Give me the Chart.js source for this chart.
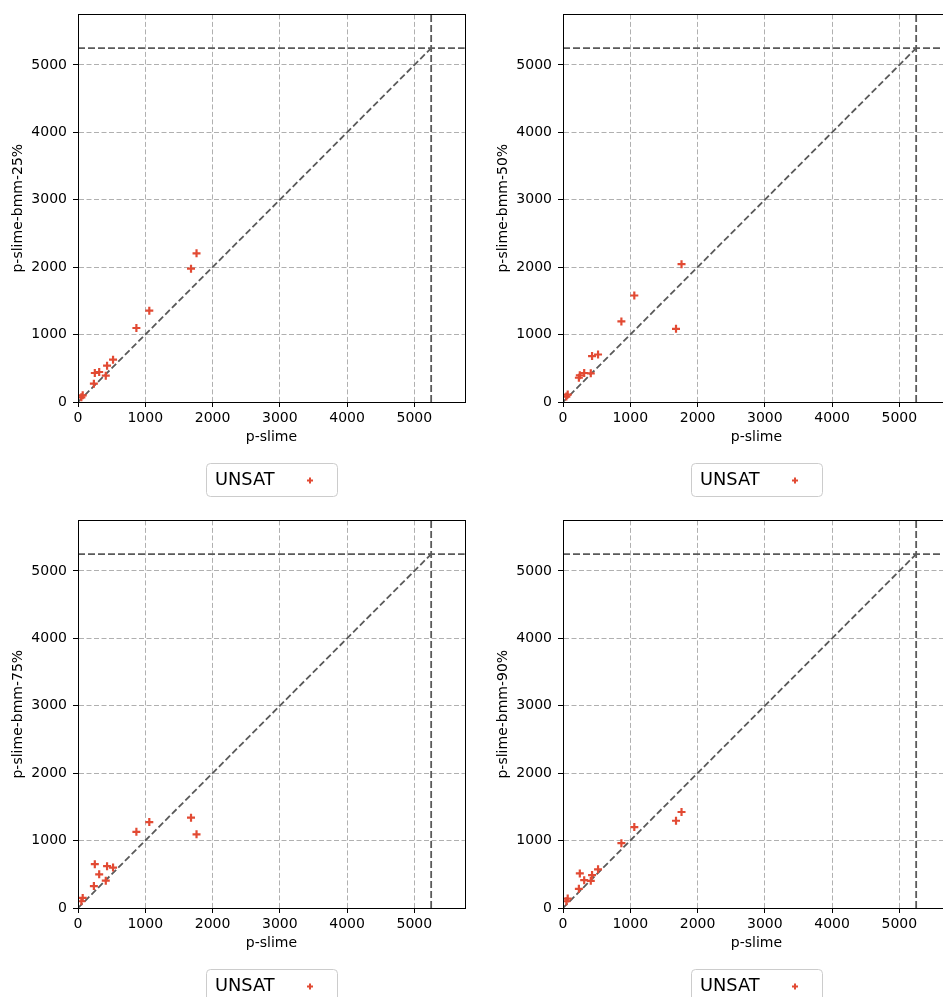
<!DOCTYPE html>
<html>
<head>
<meta charset="utf-8">
<script src="https://cdn.jsdelivr.net/npm/chart.js@4/dist/chart.umd.min.js"></script>
<style>
  html, body { margin: 0; padding: 0; background: #fff; }
  #fig { position: relative; width: 943px; height: 997px; overflow: hidden; }
  #fig canvas { position: absolute; }
</style>
</head>
<body>
<div id="fig">
  <canvas id="c25" width="471" height="506" style="left:0;top:0"></canvas>
  <canvas id="c50" width="471" height="506" style="left:485px;top:0"></canvas>
  <canvas id="c75" width="471" height="506" style="left:0;top:506px"></canvas>
  <canvas id="c90" width="471" height="506" style="left:485px;top:506px"></canvas>
</div>
<script>
// solve times, one entry per instance
const pSlime = [50, 70, 236, 250, 315, 413, 432, 521, 868, 1060, 1680, 1762];
const bmm25 = [70, 99, 272, 430, 445, 390, 539, 628, 1098, 1355, 1978, 2206];
const bmm50 = [80, 110, 360, 395, 430, 425, 681, 705, 1195, 1580, 1086, 2044];
const bmm75 = [100, 150, 325, 650, 500, 405, 620, 600, 1130, 1275, 1340, 1093];
const bmm90 = [100, 140, 284, 513, 413, 403, 488, 573, 961, 1200, 1294, 1424];

const seriesLabel = 'UNSAT';
const xLabel = 'p-slime';
const timeout = 5250;
const axisMax = 5750;
const tickValues = [0, 1000, 2000, 3000, 4000, 5000];

const POINT_COLOR = '#e24a33';
const LINE_COLOR = '#5a5a5a';

Chart.defaults.font.family = '"DejaVu Sans", sans-serif';
Chart.defaults.font.size = 14;
Chart.defaults.color = '#000';

const frame = {
  id: 'frame',
  afterDraw(chart) {
    const { ctx, chartArea: a } = chart;
    ctx.save();
    ctx.strokeStyle = '#000';
    ctx.lineWidth = 1;
    ctx.strokeRect(Math.round(a.left) + 0.5, Math.round(a.top) + 0.5,
      Math.round(a.right - a.left), Math.round(a.bottom - a.top));
    ctx.restore();
  }
};

const legendBox = {
  id: 'legendBox',
  afterDraw(chart) {
    const { ctx, chartArea } = chart;
    const cx = (chartArea.left + chartArea.right) / 2;
    const w = 131, h = 33;
    const x = Math.round(cx - w / 2), y = Math.round(chartArea.bottom + 61);
    ctx.save();
    ctx.beginPath();
    ctx.roundRect(x + 0.5, y + 0.5, w, h, 4);
    ctx.fillStyle = 'rgba(255,255,255,0.8)';
    ctx.fill();
    ctx.strokeStyle = '#cccccc';
    ctx.lineWidth = 1;
    ctx.stroke();
    ctx.fillStyle = '#000';
    ctx.font = '17.8px "DejaVu Sans"';
    ctx.textBaseline = 'middle';
    ctx.fillText(chart.data.datasets[0].label, x + 9, y + h / 2 + 1);
    ctx.strokeStyle = POINT_COLOR;
    ctx.lineWidth = 2;
    Chart.helpers.drawPoint(ctx, { pointStyle: 'cross', radius: 3, borderWidth: 2 }, x + 104, y + h / 2 + 1);
    ctx.restore();
  }
};

function guide(points, width, dash) {
  return {
    type: 'line',
    data: points,
    showLine: true,
    borderColor: LINE_COLOR,
    borderWidth: width,
    borderDash: dash,
    pointRadius: 0,
    fill: false,
    order: 1
  };
}

function makeChart(id, yValues, yLabel, padBottom) {
  const pts = pSlime.map((x, i) => ({ x: x, y: yValues[i] }));
  const axis = (title, isX) => ({
    type: 'linear',
    min: 0,
    max: axisMax,
    afterBuildTicks: s => { s.ticks = tickValues.map(v => ({ value: v })); },
    ticks: {
      padding: isX ? 3 : 6,
      maxRotation: 0,
      font: { size: 14 },
      color: '#000',
      callback: v => String(v)
    },
    grid: {
      color: '#b0b0b0',
      lineWidth: 1,
      drawTicks: true,
      tickLength: 5,
      tickColor: '#000',
      tickWidth: 1
    },
    border: { display: true, color: '#000', width: 1, dash: [5, 2.5] },
    title: {
      display: true,
      text: title,
      font: { size: 14 },
      color: '#000',
      padding: isX ? { top: 0, bottom: 0 } : { top: 10, bottom: 0 }
    },
    afterFit: s => { if (isX) s.height = 44; else s.width = 78; }
  });
  return new Chart(document.getElementById(id), {
    type: 'scatter',
    data: {
      datasets: [
        {
          label: seriesLabel,
          data: pts,
          pointStyle: 'cross',
          radius: 4,
          borderWidth: 2.2,
          borderColor: POINT_COLOR,
          backgroundColor: POINT_COLOR,
          order: 0
        },
        guide([{ x: 0, y: 0 }, { x: timeout, y: timeout }], 1.8, [6.5, 3]),
        guide([{ x: 0, y: timeout }, { x: axisMax, y: timeout }], 1.8, [7, 3]),
        guide([{ x: timeout, y: 0 }, { x: timeout, y: axisMax }], 1.8, [7, 3])
      ]
    },
    options: {
      responsive: false,
      animation: false,
      devicePixelRatio: 1,
      layout: { padding: { top: 14, right: 5, left: 0, bottom: padBottom } },
      plugins: { legend: { display: false }, tooltip: { enabled: false } },
      scales: {
        x: axis(xLabel, true),
        y: axis(yLabel, false)
      }
    },
    plugins: [frame, legendBox]
  });
}

makeChart('c25', bmm25, 'p-slime-bmm-25%', 60);
makeChart('c50', bmm50, 'p-slime-bmm-50%', 60);
makeChart('c75', bmm75, 'p-slime-bmm-75%', 60);
makeChart('c90', bmm90, 'p-slime-bmm-90%', 60);
</script>
</body>
</html>
